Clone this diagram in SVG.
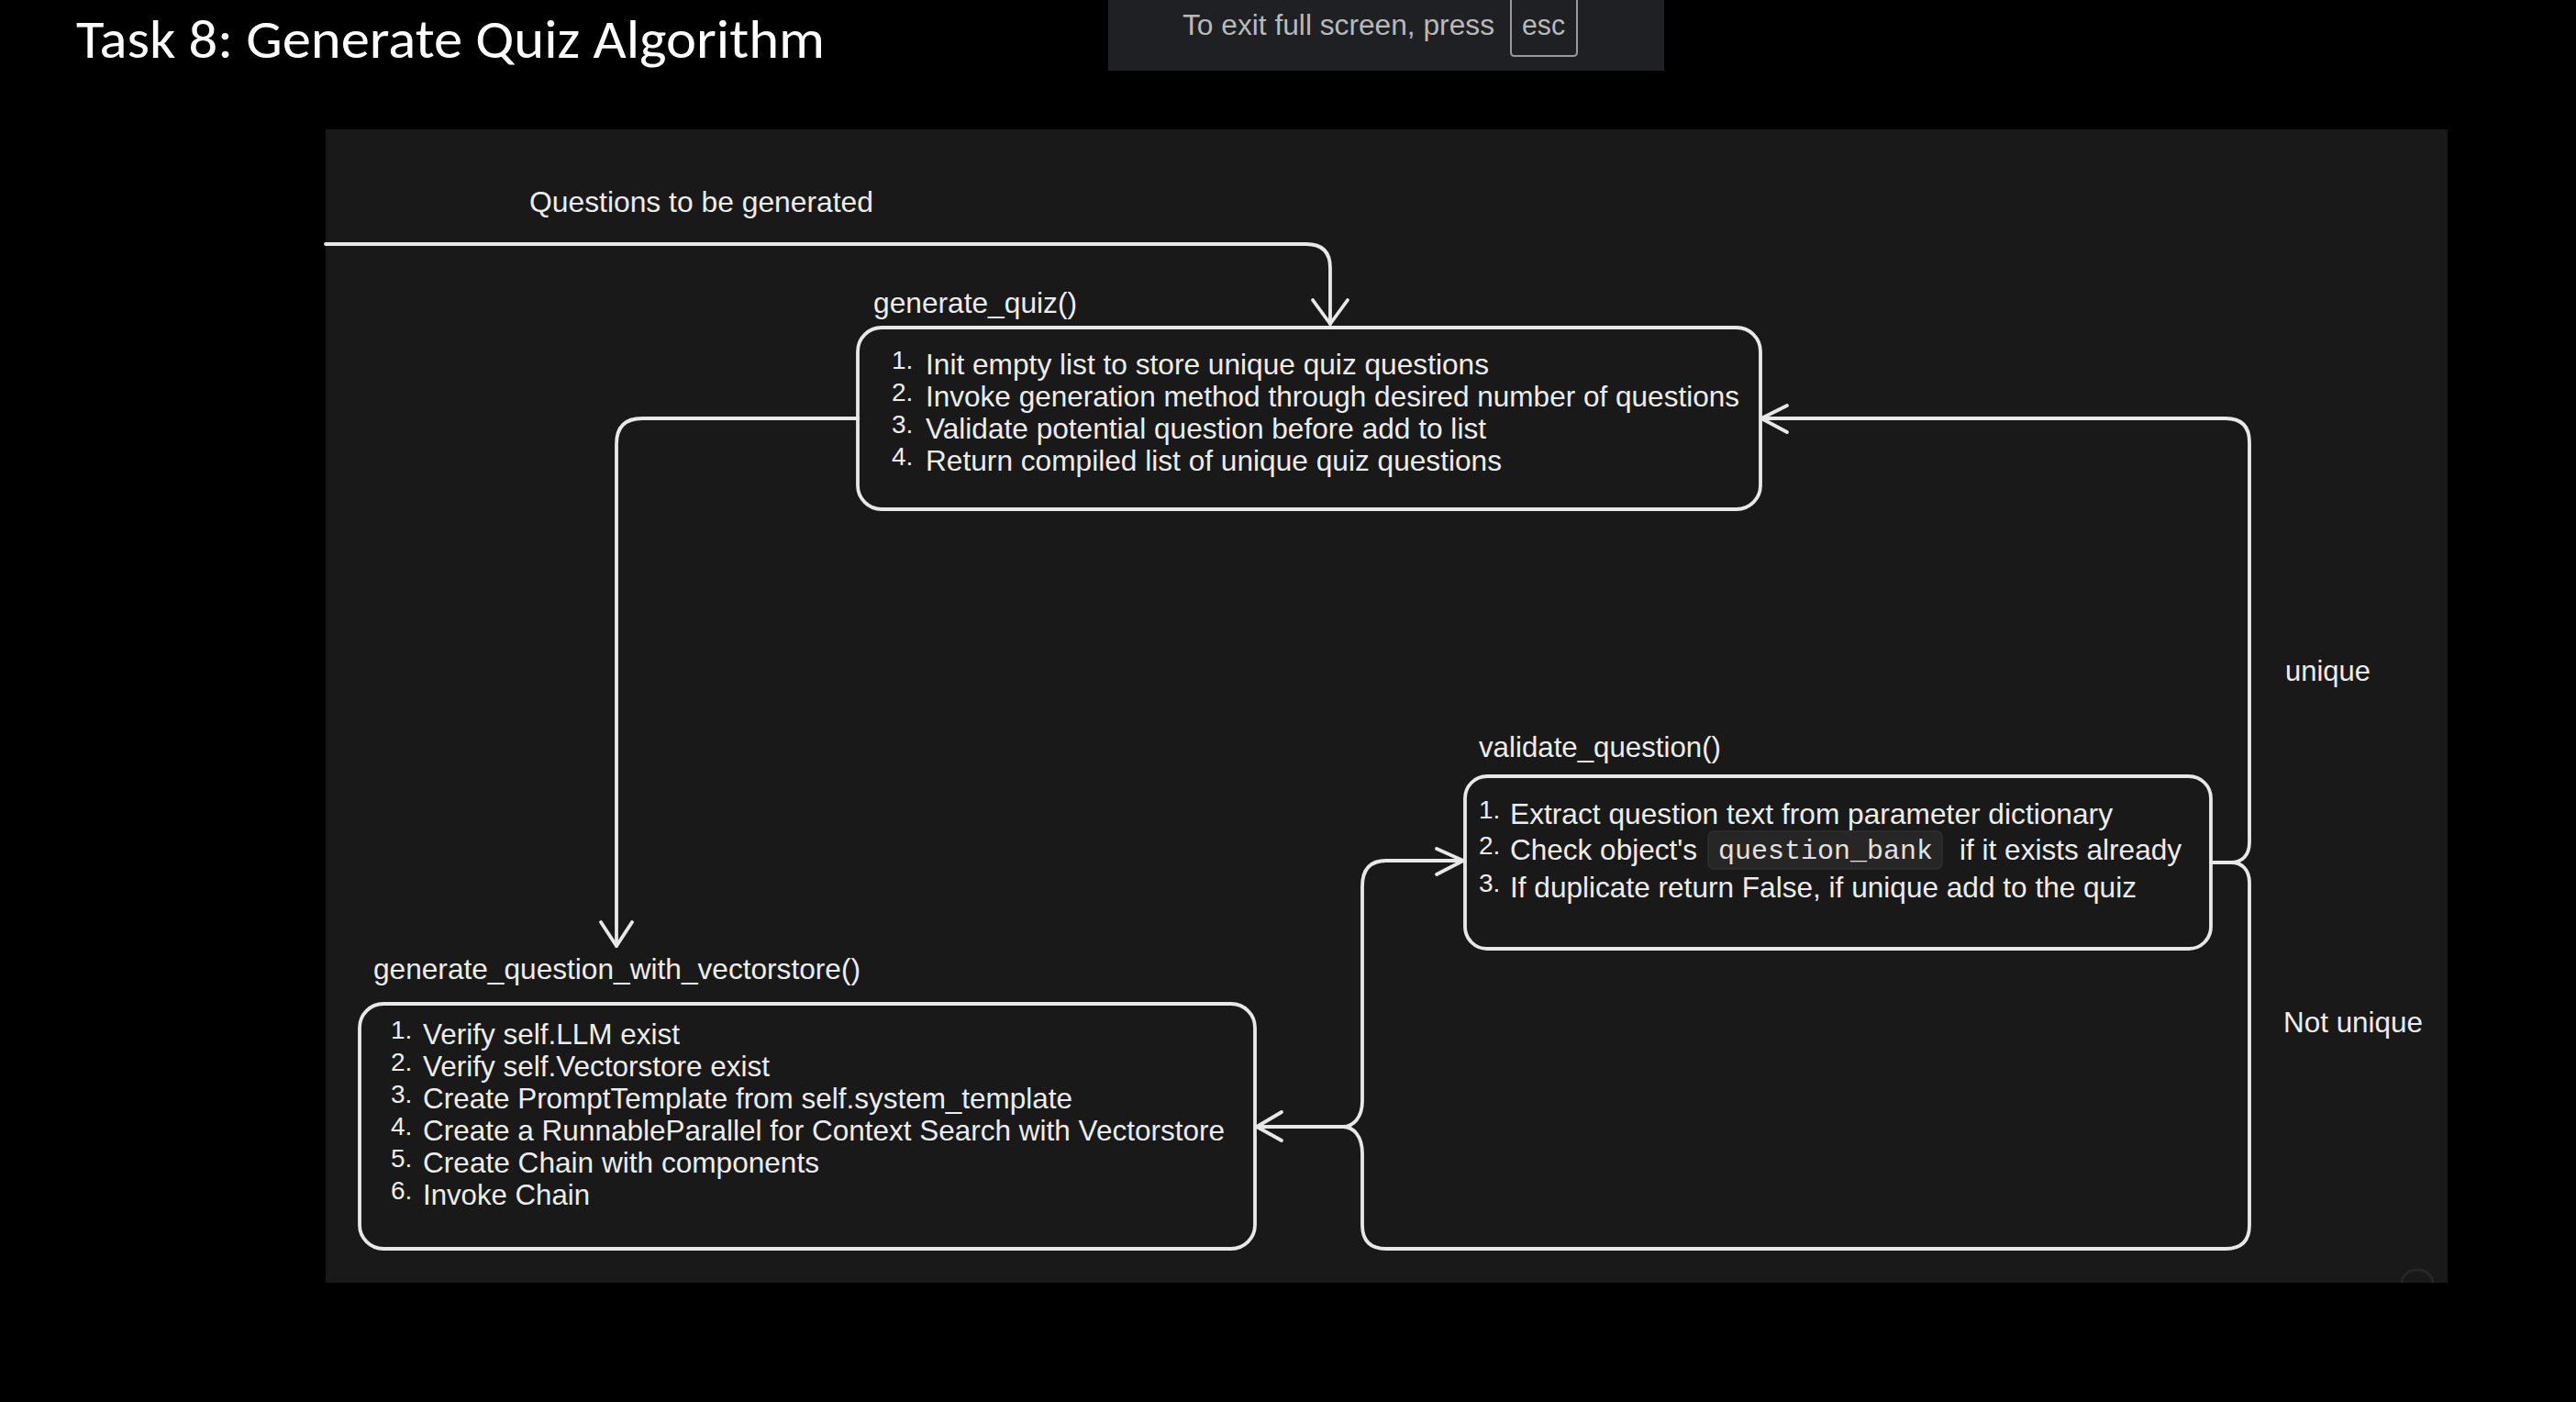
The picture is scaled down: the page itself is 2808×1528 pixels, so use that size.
<svg xmlns="http://www.w3.org/2000/svg" width="2808" height="1528" viewBox="0 0 2808 1528">
<style>
.t{font-family:"Liberation Sans",Arial,Helvetica,sans-serif;fill:#ededed;font-size:32px}
.n{font-family:"Liberation Sans",Arial,Helvetica,sans-serif;fill:#ededed;font-size:28px}
.lbl{font-family:"Liberation Sans",Arial,Helvetica,sans-serif;fill:#ededed;font-size:32px}
.box{fill:none;stroke:#e8e8e8;stroke-width:3.8}
.c{fill:none;stroke:#e8e8e8;stroke-width:3.8;stroke-linecap:round;stroke-linejoin:round}
.code{font-family:"Liberation Mono","DejaVu Sans Mono",monospace;fill:#e2e2e2;font-size:30px}
</style>
<rect x="0" y="0" width="2808" height="1528" fill="#000"/>
<text x="83" y="63" font-family="Carlito,Calibri,Lato,sans-serif" font-size="60" fill="#ffffff" textLength="816" lengthAdjust="spacingAndGlyphs">Task 8: Generate Quiz Algorithm</text>
<g id="fullscreen-notice">
<rect x="1208" y="0" width="606" height="77" fill="#1f2023"/>
<text x="1289" y="38" font-family="Liberation Sans,Arial,sans-serif" font-size="31" fill="#b9b9b9" textLength="340" lengthAdjust="spacingAndGlyphs">To exit full screen, press</text>
<path d="M1647,0 V57 Q1647,61 1651,61 H1715 Q1719,61 1719,57 V0" fill="none" stroke="#9a9a9a" stroke-width="2"/>
<text x="1659" y="38" font-family="Liberation Sans,Arial,sans-serif" font-size="31" fill="#b9b9b9" textLength="47" lengthAdjust="spacingAndGlyphs">esc</text>
</g>
<rect id="panel" x="355" y="141" width="2313" height="1257" fill="#191919"/>
<path d="M2618,1398 A17,14 0 0 1 2652,1398" fill="none" stroke="#333" stroke-width="3" opacity="0.5"/>
<g id="connectors">
<path class="c" d="M355,266 H1424 Q1450,266 1450,292 V353"/>
<path class="c" d="M1431,327 L1450,353 L1469,327"/>
<text class="lbl" x="577" y="231" textLength="375" lengthAdjust="spacingAndGlyphs">Questions to be generated</text>
<path class="c" d="M935,456 H700 Q672,456 672,484 V1031"/>
<path class="c" d="M655,1005 L672,1031 L689,1005"/>
<path class="c" d="M2410,940 H2432 C2444,940 2452,932 2452,918 V482 Q2452,456 2426,456 H1920"/>
<path class="c" d="M1948,442 L1920,456 L1948,471"/>
<path class="c" d="M2432,940 C2444,940 2452,948 2452,962 V1335 Q2452,1361 2426,1361 H1511 Q1485,1361 1485,1335 V1257 C1485,1238 1475,1228 1464,1228 C1475,1228 1485,1218 1485,1200 V966 Q1485,938 1511,938 H1595"/>
<path class="c" d="M1566,925 L1595,938 L1566,953"/>
<path class="c" d="M1464,1228 H1370"/>
<path class="c" d="M1397,1212 L1370,1228 L1397,1243"/>
<text class="lbl" x="2491" y="742" textLength="93" lengthAdjust="spacingAndGlyphs">unique</text>
<text class="lbl" x="2489" y="1125" textLength="152" lengthAdjust="spacingAndGlyphs">Not unique</text>
</g>
<g id="generate_quiz">
<text class="lbl" x="952" y="341" textLength="222" lengthAdjust="spacingAndGlyphs">generate_quiz()</text>
<rect class="box" x="935" y="357" width="984" height="198" rx="26"/>
<text class="n" x="972" y="402">1.</text>
<text class="t" x="1009" y="408" textLength="614" lengthAdjust="spacingAndGlyphs">Init empty list to store unique quiz questions</text>
<text class="n" x="972" y="437">2.</text>
<text class="t" x="1009" y="443" textLength="887" lengthAdjust="spacingAndGlyphs">Invoke generation method through desired number of questions</text>
<text class="n" x="972" y="472">3.</text>
<text class="t" x="1009" y="478" textLength="611" lengthAdjust="spacingAndGlyphs">Validate potential question before add to list</text>
<text class="n" x="972" y="507">4.</text>
<text class="t" x="1009" y="513" textLength="628" lengthAdjust="spacingAndGlyphs">Return compiled list of unique quiz questions</text>
</g>
<g id="generate_question_with_vectorstore">
<text class="lbl" x="407" y="1067" textLength="531" lengthAdjust="spacingAndGlyphs">generate_question_with_vectorstore()</text>
<rect class="box" x="392" y="1094" width="976" height="267" rx="26"/>
<text class="n" x="426" y="1132">1.</text>
<text class="t" x="461" y="1138" textLength="280" lengthAdjust="spacingAndGlyphs">Verify self.LLM exist</text>
<text class="n" x="426" y="1167">2.</text>
<text class="t" x="461" y="1173" textLength="378" lengthAdjust="spacingAndGlyphs">Verify self.Vectorstore exist</text>
<text class="n" x="426" y="1202">3.</text>
<text class="t" x="461" y="1208" textLength="708" lengthAdjust="spacingAndGlyphs">Create PromptTemplate from self.system_template</text>
<text class="n" x="426" y="1237">4.</text>
<text class="t" x="461" y="1243" textLength="874" lengthAdjust="spacingAndGlyphs">Create a RunnableParallel for Context Search with Vectorstore</text>
<text class="n" x="426" y="1272">5.</text>
<text class="t" x="461" y="1278" textLength="432" lengthAdjust="spacingAndGlyphs">Create Chain with components</text>
<text class="n" x="426" y="1307">6.</text>
<text class="t" x="461" y="1313" textLength="182" lengthAdjust="spacingAndGlyphs">Invoke Chain</text>
</g>
<g id="validate_question">
<text class="lbl" x="1612" y="825" textLength="264" lengthAdjust="spacingAndGlyphs">validate_question()</text>
<rect class="box" x="1597" y="846" width="813" height="188" rx="24"/>
<text class="n" x="1612" y="892">1.</text>
<text class="t" x="1646" y="898" textLength="657" lengthAdjust="spacingAndGlyphs">Extract question text from parameter dictionary</text>
<text class="n" x="1612" y="931">2.</text>
<text class="t" x="1646" y="937" textLength="204" lengthAdjust="spacingAndGlyphs">Check object's</text>
<rect x="1862" y="906" width="255" height="41" rx="6" fill="#262626" stroke="#2f2f2f" stroke-width="1.5"/>
<text class="code" x="1873" y="936" textLength="234" lengthAdjust="spacingAndGlyphs">question_bank</text>
<text class="t" x="2136" y="937" textLength="242" lengthAdjust="spacingAndGlyphs">if it exists already</text>
<text class="n" x="1612" y="972">3.</text>
<text class="t" x="1646" y="978" textLength="683" lengthAdjust="spacingAndGlyphs">If duplicate return False, if unique add to the quiz</text>
</g>
</svg>
